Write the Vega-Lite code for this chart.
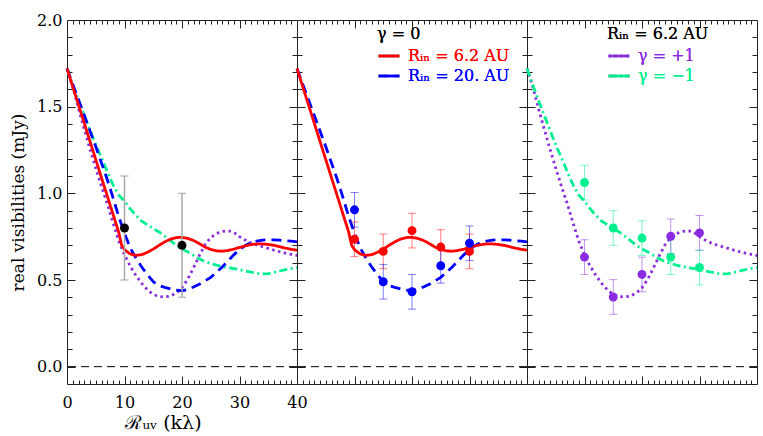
{
"$schema": "https://vega.github.io/schema/vega-lite/v6.json",
"padding": {"left": 9, "top": 11, "right": 5, "bottom": 2},
"background": "white",
"spacing": 0,
"bounds": "flush",
"resolve": {"scale": {"color": "independent", "strokeDash": "independent"}, "legend": {"color": "independent", "strokeDash": "independent"}},
"datasets": {
"curves": [
{"s":"γ = +1","x":0,"v":1.72},{"s":"γ = +1","x":1,"v":1.615},{"s":"γ = +1","x":2,"v":1.49},{"s":"γ = +1","x":3,"v":1.37},{"s":"γ = +1","x":4,"v":1.255},{"s":"γ = +1","x":5,"v":1.145},{"s":"γ = +1","x":6,"v":1.04},{"s":"γ = +1","x":7,"v":0.94},{"s":"γ = +1","x":8,"v":0.83},{"s":"γ = +1","x":9,"v":0.725},{"s":"γ = +1","x":10,"v":0.645},{"s":"γ = +1","x":11,"v":0.58},{"s":"γ = +1","x":12,"v":0.525},{"s":"γ = +1","x":13,"v":0.48},{"s":"γ = +1","x":14,"v":0.443},{"s":"γ = +1","x":15,"v":0.416},{"s":"γ = +1","x":16,"v":0.405},{"s":"γ = +1","x":17,"v":0.402},{"s":"γ = +1","x":18,"v":0.408},{"s":"γ = +1","x":19,"v":0.425},{"s":"γ = +1","x":20,"v":0.455},{"s":"γ = +1","x":21,"v":0.505},{"s":"γ = +1","x":22,"v":0.57},{"s":"γ = +1","x":23,"v":0.64},{"s":"γ = +1","x":24,"v":0.703},{"s":"γ = +1","x":25,"v":0.745},{"s":"γ = +1","x":26,"v":0.768},{"s":"γ = +1","x":27,"v":0.78},{"s":"γ = +1","x":28,"v":0.784},{"s":"γ = +1","x":29,"v":0.776},{"s":"γ = +1","x":30,"v":0.75},{"s":"γ = +1","x":31,"v":0.73},{"s":"γ = +1","x":32,"v":0.714},{"s":"γ = +1","x":33,"v":0.702},{"s":"γ = +1","x":34,"v":0.692},{"s":"γ = +1","x":35,"v":0.682},{"s":"γ = +1","x":36,"v":0.672},{"s":"γ = +1","x":37,"v":0.663},{"s":"γ = +1","x":38,"v":0.655},{"s":"γ = +1","x":39,"v":0.648},{"s":"γ = +1","x":40,"v":0.641},
{"s":"γ = −1","x":0,"v":1.72},{"s":"γ = −1","x":1,"v":1.625},{"s":"γ = −1","x":2,"v":1.535},{"s":"γ = −1","x":3,"v":1.45},{"s":"γ = −1","x":4,"v":1.365},{"s":"γ = −1","x":5,"v":1.28},{"s":"γ = −1","x":6,"v":1.205},{"s":"γ = −1","x":7,"v":1.125},{"s":"γ = −1","x":8,"v":1.05},{"s":"γ = −1","x":9,"v":0.99},{"s":"γ = −1","x":10,"v":0.955},{"s":"γ = −1","x":11,"v":0.91},{"s":"γ = −1","x":12,"v":0.872},{"s":"γ = −1","x":13,"v":0.84},{"s":"γ = −1","x":14,"v":0.818},{"s":"γ = −1","x":15,"v":0.797},{"s":"γ = −1","x":16,"v":0.777},{"s":"γ = −1","x":17,"v":0.753},{"s":"γ = −1","x":18,"v":0.727},{"s":"γ = −1","x":19,"v":0.70},{"s":"γ = −1","x":20,"v":0.68},{"s":"γ = −1","x":21,"v":0.662},{"s":"γ = −1","x":22,"v":0.642},{"s":"γ = −1","x":23,"v":0.622},{"s":"γ = −1","x":24,"v":0.606},{"s":"γ = −1","x":25,"v":0.595},{"s":"γ = −1","x":26,"v":0.586},{"s":"γ = −1","x":27,"v":0.578},{"s":"γ = −1","x":28,"v":0.572},{"s":"γ = −1","x":29,"v":0.566},{"s":"γ = −1","x":30,"v":0.56},{"s":"γ = −1","x":31,"v":0.552},{"s":"γ = −1","x":32,"v":0.545},{"s":"γ = −1","x":33,"v":0.539},{"s":"γ = −1","x":34,"v":0.535},{"s":"γ = −1","x":35,"v":0.537},{"s":"γ = −1","x":36,"v":0.544},{"s":"γ = −1","x":37,"v":0.552},{"s":"γ = −1","x":38,"v":0.56},{"s":"γ = −1","x":39,"v":0.566},{"s":"γ = −1","x":40,"v":0.572},
{"s":"Rᵢₙ = 20. AU","x":0,"v":1.72},{"s":"Rᵢₙ = 20. AU","x":1,"v":1.63},{"s":"Rᵢₙ = 20. AU","x":2,"v":1.54},{"s":"Rᵢₙ = 20. AU","x":3,"v":1.45},{"s":"Rᵢₙ = 20. AU","x":4,"v":1.36},{"s":"Rᵢₙ = 20. AU","x":5,"v":1.27},{"s":"Rᵢₙ = 20. AU","x":6,"v":1.175},{"s":"Rᵢₙ = 20. AU","x":7,"v":1.08},{"s":"Rᵢₙ = 20. AU","x":8,"v":0.975},{"s":"Rᵢₙ = 20. AU","x":9,"v":0.865},{"s":"Rᵢₙ = 20. AU","x":10,"v":0.77},{"s":"Rᵢₙ = 20. AU","x":11,"v":0.685},{"s":"Rᵢₙ = 20. AU","x":12,"v":0.625},{"s":"Rᵢₙ = 20. AU","x":13,"v":0.575},{"s":"Rᵢₙ = 20. AU","x":14,"v":0.53},{"s":"Rᵢₙ = 20. AU","x":15,"v":0.49},{"s":"Rᵢₙ = 20. AU","x":16,"v":0.468},{"s":"Rᵢₙ = 20. AU","x":17,"v":0.458},{"s":"Rᵢₙ = 20. AU","x":18,"v":0.449},{"s":"Rᵢₙ = 20. AU","x":19,"v":0.441},{"s":"Rᵢₙ = 20. AU","x":20,"v":0.438},{"s":"Rᵢₙ = 20. AU","x":21,"v":0.445},{"s":"Rᵢₙ = 20. AU","x":22,"v":0.46},{"s":"Rᵢₙ = 20. AU","x":23,"v":0.475},{"s":"Rᵢₙ = 20. AU","x":24,"v":0.495},{"s":"Rᵢₙ = 20. AU","x":25,"v":0.515},{"s":"Rᵢₙ = 20. AU","x":26,"v":0.545},{"s":"Rᵢₙ = 20. AU","x":27,"v":0.575},{"s":"Rᵢₙ = 20. AU","x":28,"v":0.61},{"s":"Rᵢₙ = 20. AU","x":29,"v":0.645},{"s":"Rᵢₙ = 20. AU","x":30,"v":0.675},{"s":"Rᵢₙ = 20. AU","x":31,"v":0.70},{"s":"Rᵢₙ = 20. AU","x":32,"v":0.716},{"s":"Rᵢₙ = 20. AU","x":33,"v":0.725},{"s":"Rᵢₙ = 20. AU","x":34,"v":0.73},{"s":"Rᵢₙ = 20. AU","x":35,"v":0.732},{"s":"Rᵢₙ = 20. AU","x":36,"v":0.732},{"s":"Rᵢₙ = 20. AU","x":37,"v":0.73},{"s":"Rᵢₙ = 20. AU","x":38,"v":0.727},{"s":"Rᵢₙ = 20. AU","x":39,"v":0.724},{"s":"Rᵢₙ = 20. AU","x":40,"v":0.72},
{"s":"Rᵢₙ = 6.2 AU","x":0,"v":1.72},{"s":"Rᵢₙ = 6.2 AU","x":1,"v":1.615},{"s":"Rᵢₙ = 6.2 AU","x":2,"v":1.51},{"s":"Rᵢₙ = 6.2 AU","x":3,"v":1.405},{"s":"Rᵢₙ = 6.2 AU","x":4,"v":1.30},{"s":"Rᵢₙ = 6.2 AU","x":5,"v":1.195},{"s":"Rᵢₙ = 6.2 AU","x":6,"v":1.09},{"s":"Rᵢₙ = 6.2 AU","x":7,"v":0.985},{"s":"Rᵢₙ = 6.2 AU","x":8,"v":0.88},{"s":"Rᵢₙ = 6.2 AU","x":9,"v":0.775},{"s":"Rᵢₙ = 6.2 AU","x":9.5,"v":0.70},{"s":"Rᵢₙ = 6.2 AU","x":10,"v":0.675},{"s":"Rᵢₙ = 6.2 AU","x":11,"v":0.65},{"s":"Rᵢₙ = 6.2 AU","x":12,"v":0.642},{"s":"Rᵢₙ = 6.2 AU","x":13,"v":0.646},{"s":"Rᵢₙ = 6.2 AU","x":14,"v":0.66},{"s":"Rᵢₙ = 6.2 AU","x":15,"v":0.678},{"s":"Rᵢₙ = 6.2 AU","x":16,"v":0.70},{"s":"Rᵢₙ = 6.2 AU","x":17,"v":0.72},{"s":"Rᵢₙ = 6.2 AU","x":18,"v":0.736},{"s":"Rᵢₙ = 6.2 AU","x":19,"v":0.745},{"s":"Rᵢₙ = 6.2 AU","x":20,"v":0.746},{"s":"Rᵢₙ = 6.2 AU","x":21,"v":0.74},{"s":"Rᵢₙ = 6.2 AU","x":22,"v":0.728},{"s":"Rᵢₙ = 6.2 AU","x":23,"v":0.71},{"s":"Rᵢₙ = 6.2 AU","x":24,"v":0.69},{"s":"Rᵢₙ = 6.2 AU","x":25,"v":0.676},{"s":"Rᵢₙ = 6.2 AU","x":26,"v":0.668},{"s":"Rᵢₙ = 6.2 AU","x":27,"v":0.666},{"s":"Rᵢₙ = 6.2 AU","x":28,"v":0.67},{"s":"Rᵢₙ = 6.2 AU","x":29,"v":0.678},{"s":"Rᵢₙ = 6.2 AU","x":30,"v":0.688},{"s":"Rᵢₙ = 6.2 AU","x":31,"v":0.697},{"s":"Rᵢₙ = 6.2 AU","x":32,"v":0.704},{"s":"Rᵢₙ = 6.2 AU","x":33,"v":0.708},{"s":"Rᵢₙ = 6.2 AU","x":34,"v":0.708},{"s":"Rᵢₙ = 6.2 AU","x":35,"v":0.705},{"s":"Rᵢₙ = 6.2 AU","x":36,"v":0.70},{"s":"Rᵢₙ = 6.2 AU","x":37,"v":0.692},{"s":"Rᵢₙ = 6.2 AU","x":38,"v":0.684},{"s":"Rᵢₙ = 6.2 AU","x":39,"v":0.677},{"s":"Rᵢₙ = 6.2 AU","x":40,"v":0.672}
],
"obs": [
{"p":1,"s":"obs","x":10,"v":0.80,"lo":0.50,"hi":1.10},
{"p":1,"s":"obs","x":20,"v":0.70,"lo":0.40,"hi":1.00},
{"p":2,"s":"Rᵢₙ = 6.2 AU","x":10,"v":0.735,"lo":0.635,"hi":0.835},
{"p":2,"s":"Rᵢₙ = 6.2 AU","x":15,"v":0.665,"lo":0.565,"hi":0.765},
{"p":2,"s":"Rᵢₙ = 6.2 AU","x":20,"v":0.785,"lo":0.685,"hi":0.885},
{"p":2,"s":"Rᵢₙ = 6.2 AU","x":25,"v":0.69,"lo":0.59,"hi":0.79},
{"p":2,"s":"Rᵢₙ = 6.2 AU","x":30,"v":0.665,"lo":0.565,"hi":0.765},
{"p":2,"s":"Rᵢₙ = 20. AU","x":10,"v":0.905,"lo":0.805,"hi":1.005},
{"p":2,"s":"Rᵢₙ = 20. AU","x":15,"v":0.49,"lo":0.39,"hi":0.59},
{"p":2,"s":"Rᵢₙ = 20. AU","x":20,"v":0.432,"lo":0.332,"hi":0.532},
{"p":2,"s":"Rᵢₙ = 20. AU","x":25,"v":0.582,"lo":0.482,"hi":0.682},
{"p":2,"s":"Rᵢₙ = 20. AU","x":30,"v":0.712,"lo":0.612,"hi":0.812},
{"p":3,"s":"γ = −1","x":10,"v":1.062,"lo":0.962,"hi":1.162},
{"p":3,"s":"γ = −1","x":15,"v":0.80,"lo":0.70,"hi":0.90},
{"p":3,"s":"γ = −1","x":20,"v":0.742,"lo":0.642,"hi":0.842},
{"p":3,"s":"γ = −1","x":25,"v":0.632,"lo":0.532,"hi":0.732},
{"p":3,"s":"γ = −1","x":30,"v":0.572,"lo":0.472,"hi":0.672},
{"p":3,"s":"γ = +1","x":10,"v":0.632,"lo":0.532,"hi":0.732},
{"p":3,"s":"γ = +1","x":15,"v":0.402,"lo":0.302,"hi":0.502},
{"p":3,"s":"γ = +1","x":20,"v":0.532,"lo":0.432,"hi":0.632},
{"p":3,"s":"γ = +1","x":25,"v":0.752,"lo":0.652,"hi":0.852},
{"p":3,"s":"γ = +1","x":30,"v":0.772,"lo":0.672,"hi":0.872}
]
},
"hconcat": [
{
"width": 230, "height": 364,
"resolve": {"axis": {"x": "independent", "y": "independent"}, "scale": {"color": "independent"}},
"layer": [
{"data": {"values": [{"level": 0}]},
 "mark": {"type": "rule", "color": "#000", "strokeWidth": 1, "strokeDash": [8, 5]},
 "encoding": {"y": {"field": "level", "type": "quantitative", "scale": {"domain": [-0.1, 2], "nice": false, "zero": false},
   "axis": {"orient": "left", "values": [0, 0.5, 1, 1.5, 2], "format": ".1f", "ticks": false, "labelPadding": 5, "labelFlush": false, "labelOverlap": false, "title": "real visibilities (mJy)", "titlePadding": 9, "titleFontSize": 17}}}},
{"data": {"name": "curves"},
 "mark": {"type": "line", "strokeWidth": 2.8, "strokeCap": "butt"},
 "encoding": {
   "x": {"field": "x", "type": "quantitative", "scale": {"domain": [0, 40], "nice": false, "zero": false},
     "axis": {"orient": "bottom", "values": [0, 10, 20, 30, 40], "ticks": false, "labelPadding": 10, "labelFlush": false, "labelOverlap": false, "title": "ℛᵤᵥ (kλ)", "titlePadding": 3, "titleX": 96, "titleFontSize": 19}},
   "y": {"field": "v", "type": "quantitative", "scale": {"domain": [-0.1, 2], "nice": false, "zero": false},
     "axis": {"orient": "left", "values": [0, 0.5, 1, 1.5], "labels": false, "tickSize": -8, "title": null}},
   "color": {"field": "s", "type": "nominal", "scale": {"domain": ["γ = +1", "γ = −1", "Rᵢₙ = 20. AU", "Rᵢₙ = 6.2 AU"], "range": ["#8a2be2", "#00f090", "#0000ff", "#ff0000"]}, "legend": null},
   "strokeDash": {"field": "s", "type": "nominal", "scale": {"domain": ["γ = +1", "γ = −1", "Rᵢₙ = 20. AU", "Rᵢₙ = 6.2 AU"], "range": [[2.5, 3.5], [8, 3.5, 2, 3.5], [10, 6], [1, 0]]}, "legend": null}
 }},
{"data": {"name": "obs"}, "transform": [{"filter": "datum.p == 1"}],
 "mark": {"type": "rule", "color": "#a8a8a8", "strokeWidth": 1.5},
 "encoding": {
   "x": {"field": "x", "type": "quantitative", "scale": {"domain": [0, 40], "nice": false, "zero": false},
     "axis": {"orient": "bottom", "values": [10, 20, 30], "labels": false, "tickSize": -8, "title": null}},
   "y": {"field": "lo", "type": "quantitative", "scale": {"domain": [-0.1, 2], "nice": false, "zero": false},
     "axis": {"orient": "left", "values": [0.1,0.2,0.3,0.4,0.6,0.7,0.8,0.9,1.1,1.2,1.3,1.4,1.6,1.7,1.8,1.9], "labels": false, "tickSize": -5, "title": null}},
   "y2": {"field": "hi"}
 }},
{"data": {"name": "obs"}, "transform": [{"filter": "datum.p == 1"}],
 "mark": {"type": "tick", "orient": "horizontal", "size": 8, "thickness": 1.5, "color": "#a8a8a8"},
 "encoding": {
   "x": {"field": "x", "type": "quantitative", "scale": {"domain": [0, 40], "nice": false, "zero": false},
     "axis": {"orient": "bottom", "values": [1,2,3,4,5,6,7,8,9,11,12,13,14,15,16,17,18,19,21,22,23,24,25,26,27,28,29,31,32,33,34,35,36,37,38,39], "labels": false, "tickSize": -4, "title": null}},
   "y": {"field": "lo", "type": "quantitative", "scale": {"domain": [-0.1, 2], "nice": false, "zero": false},
     "axis": {"orient": "right", "values": [0, 0.5, 1, 1.5], "labels": false, "tickSize": -8, "title": null}}
 }},
{"data": {"name": "obs"}, "transform": [{"filter": "datum.p == 1"}],
 "mark": {"type": "tick", "orient": "horizontal", "size": 8, "thickness": 1.5, "color": "#a8a8a8"},
 "encoding": {
   "x": {"field": "x", "type": "quantitative", "scale": {"domain": [0, 40], "nice": false, "zero": false},
     "axis": {"orient": "top", "values": [10, 20, 30], "labels": false, "tickSize": -8, "title": null}},
   "y": {"field": "hi", "type": "quantitative", "scale": {"domain": [-0.1, 2], "nice": false, "zero": false},
     "axis": {"orient": "right", "values": [0.1,0.2,0.3,0.4,0.6,0.7,0.8,0.9,1.1,1.2,1.3,1.4,1.6,1.7,1.8,1.9], "labels": false, "tickSize": -5, "title": null}}
 }},
{"data": {"name": "obs"}, "transform": [{"filter": "datum.p == 1"}],
 "mark": {"type": "circle", "size": 80, "opacity": 1, "color": "#000"},
 "encoding": {
   "x": {"field": "x", "type": "quantitative", "scale": {"domain": [0, 40], "nice": false, "zero": false},
     "axis": {"orient": "top", "values": [1,2,3,4,5,6,7,8,9,11,12,13,14,15,16,17,18,19,21,22,23,24,25,26,27,28,29,31,32,33,34,35,36,37,38,39], "labels": false, "tickSize": -4, "title": null}},
   "y": {"field": "v", "type": "quantitative", "scale": {"domain": [-0.1, 2], "nice": false, "zero": false}, "axis": null}
 }}
]
},
{
"width": 230, "height": 364,
"resolve": {"axis": {"x": "independent", "y": "independent"}, "scale": {"color": "independent"}},
"layer": [
{"data": {"values": [{"level": 0}]},
 "mark": {"type": "rule", "color": "#000", "strokeWidth": 1, "strokeDash": [8, 5]},
 "encoding": {"y": {"field": "level", "type": "quantitative", "scale": {"domain": [-0.1, 2], "nice": false, "zero": false},
   "axis": {"orient": "left", "values": [0, 0.5, 1, 1.5], "labels": false, "tickSize": -8, "title": null}}}},
{"data": {"name": "curves"}, "transform": [{"filter": "indexof(datum.s, 'AU') >= 0"}],
 "mark": {"type": "line", "strokeWidth": 2.8, "strokeCap": "butt"},
 "encoding": {
   "x": {"field": "x", "type": "quantitative", "scale": {"domain": [0, 40], "nice": false, "zero": false},
     "axis": {"orient": "bottom", "values": [10, 20, 30], "labels": false, "tickSize": -8, "title": null}},
   "y": {"field": "v", "type": "quantitative", "scale": {"domain": [-0.1, 2], "nice": false, "zero": false},
     "axis": {"orient": "left", "values": [0.1,0.2,0.3,0.4,0.6,0.7,0.8,0.9,1.1,1.2,1.3,1.4,1.6,1.7,1.8,1.9], "labels": false, "tickSize": -5, "title": null}},
   "color": {"field": "s", "type": "nominal", "scale": {"domain": ["Rᵢₙ = 6.2 AU", "Rᵢₙ = 20. AU"], "range": ["#ff0000", "#0000ff"]},
     "legend": {"orient": "none", "legendX": 80, "legendY": 6, "title": "γ = 0", "titleFontWeight": 400, "titleFont": "DejaVu Serif", "titleFontSize": 16, "symbolType": "stroke", "symbolSize": 441, "symbolStrokeWidth": 2.8, "rowPadding": -7, "titlePadding": 2, "labelOffset": 7, "padding": 0,
       "encode": {"title": {"update": {"fontWeight": {"value": 400}}}, "labels": {"update": {"fill": {"signal": "indexof(datum.value, '6.2') >= 0 ? '#ff0000' : '#0000ff'"}}}}}},
   "strokeDash": {"field": "s", "type": "nominal", "scale": {"domain": ["Rᵢₙ = 6.2 AU", "Rᵢₙ = 20. AU"], "range": [[1, 0], [10, 6]]},
     "legend": {"orient": "none", "legendX": 80, "legendY": 6, "title": "γ = 0", "titleFontWeight": 400, "titleFont": "DejaVu Serif", "titleFontSize": 16, "symbolType": "stroke", "symbolSize": 441, "symbolStrokeWidth": 2.8, "rowPadding": -7, "titlePadding": 2, "labelOffset": 7, "padding": 0,
       "encode": {"title": {"update": {"fontWeight": {"value": 400}}}, "labels": {"update": {"fill": {"signal": "indexof(datum.value, '6.2') >= 0 ? '#ff0000' : '#0000ff'"}}}}}}
 }},
{"data": {"name": "obs"}, "transform": [{"filter": "datum.p == 2"}],
 "mark": {"type": "rule", "strokeWidth": 1, "opacity": 0.5},
 "encoding": {
   "x": {"field": "x", "type": "quantitative", "scale": {"domain": [0, 40], "nice": false, "zero": false},
     "axis": {"orient": "bottom", "values": [1,2,3,4,5,6,7,8,9,11,12,13,14,15,16,17,18,19,21,22,23,24,25,26,27,28,29,31,32,33,34,35,36,37,38,39], "labels": false, "tickSize": -4, "title": null}},
   "y": {"field": "lo", "type": "quantitative", "scale": {"domain": [-0.1, 2], "nice": false, "zero": false},
     "axis": {"orient": "right", "values": [0, 0.5, 1, 1.5], "labels": false, "tickSize": -8, "title": null}},
   "y2": {"field": "hi"},
   "color": {"field": "s", "type": "nominal", "scale": {"domain": ["Rᵢₙ = 6.2 AU", "Rᵢₙ = 20. AU"], "range": ["#ff0000", "#0000ff"]}, "legend": null}
 }},
{"data": {"name": "obs"}, "transform": [{"filter": "datum.p == 2"}],
 "mark": {"type": "tick", "orient": "horizontal", "size": 8, "thickness": 1, "opacity": 0.5},
 "encoding": {
   "x": {"field": "x", "type": "quantitative", "scale": {"domain": [0, 40], "nice": false, "zero": false},
     "axis": {"orient": "top", "values": [10, 20, 30], "labels": false, "tickSize": -8, "title": null}},
   "y": {"field": "lo", "type": "quantitative", "scale": {"domain": [-0.1, 2], "nice": false, "zero": false},
     "axis": {"orient": "right", "values": [0.1,0.2,0.3,0.4,0.6,0.7,0.8,0.9,1.1,1.2,1.3,1.4,1.6,1.7,1.8,1.9], "labels": false, "tickSize": -5, "title": null}},
   "color": {"field": "s", "type": "nominal", "scale": {"domain": ["Rᵢₙ = 6.2 AU", "Rᵢₙ = 20. AU"], "range": ["#ff0000", "#0000ff"]}, "legend": null}
 }},
{"data": {"name": "obs"}, "transform": [{"filter": "datum.p == 2"}],
 "mark": {"type": "tick", "orient": "horizontal", "size": 8, "thickness": 1, "opacity": 0.5},
 "encoding": {
   "x": {"field": "x", "type": "quantitative", "scale": {"domain": [0, 40], "nice": false, "zero": false},
     "axis": {"orient": "top", "values": [1,2,3,4,5,6,7,8,9,11,12,13,14,15,16,17,18,19,21,22,23,24,25,26,27,28,29,31,32,33,34,35,36,37,38,39], "labels": false, "tickSize": -4, "title": null}},
   "y": {"field": "hi", "type": "quantitative", "scale": {"domain": [-0.1, 2], "nice": false, "zero": false}, "axis": null},
   "color": {"field": "s", "type": "nominal", "scale": {"domain": ["Rᵢₙ = 6.2 AU", "Rᵢₙ = 20. AU"], "range": ["#ff0000", "#0000ff"]}, "legend": null}
 }},
{"data": {"name": "obs"}, "transform": [{"filter": "datum.p == 2"}],
 "mark": {"type": "circle", "size": 80, "opacity": 1},
 "encoding": {
   "x": {"field": "x", "type": "quantitative", "scale": {"domain": [0, 40], "nice": false, "zero": false}, "axis": null},
   "y": {"field": "v", "type": "quantitative", "scale": {"domain": [-0.1, 2], "nice": false, "zero": false}, "axis": null},
   "color": {"field": "s", "type": "nominal", "scale": {"domain": ["Rᵢₙ = 6.2 AU", "Rᵢₙ = 20. AU"], "range": ["#ff0000", "#0000ff"]}, "legend": null}
 }}
]
},
{
"width": 230, "height": 364,
"resolve": {"axis": {"x": "independent", "y": "independent"}, "scale": {"color": "independent"}},
"layer": [
{"data": {"values": [{"level": 0}]},
 "mark": {"type": "rule", "color": "#000", "strokeWidth": 1, "strokeDash": [8, 5]},
 "encoding": {"y": {"field": "level", "type": "quantitative", "scale": {"domain": [-0.1, 2], "nice": false, "zero": false},
   "axis": {"orient": "left", "values": [0, 0.5, 1, 1.5], "labels": false, "tickSize": -8, "title": null}}}},
{"data": {"name": "curves"}, "transform": [{"filter": "indexof(datum.s, 'γ') >= 0"}],
 "mark": {"type": "line", "strokeWidth": 2.8, "strokeCap": "butt"},
 "encoding": {
   "x": {"field": "x", "type": "quantitative", "scale": {"domain": [0, 40], "nice": false, "zero": false},
     "axis": {"orient": "bottom", "values": [10, 20, 30], "labels": false, "tickSize": -8, "title": null}},
   "y": {"field": "v", "type": "quantitative", "scale": {"domain": [-0.1, 2], "nice": false, "zero": false},
     "axis": {"orient": "left", "values": [0.1,0.2,0.3,0.4,0.6,0.7,0.8,0.9,1.1,1.2,1.3,1.4,1.6,1.7,1.8,1.9], "labels": false, "tickSize": -5, "title": null}},
   "color": {"field": "s", "type": "nominal", "scale": {"domain": ["γ = +1", "γ = −1"], "range": ["#8a2be2", "#00f090"]},
     "legend": {"orient": "none", "legendX": 80, "legendY": 6, "title": "Rᵢₙ = 6.2 AU", "titleFontWeight": 400, "titleFont": "DejaVu Serif", "titleFontSize": 16, "symbolType": "stroke", "symbolSize": 441, "symbolStrokeWidth": 2.8, "rowPadding": -7, "titlePadding": 2, "labelOffset": 7, "padding": 0,
       "encode": {"title": {"update": {"fontWeight": {"value": 400}}}, "labels": {"update": {"fill": {"signal": "indexof(datum.value, '+') >= 0 ? '#8a2be2' : '#00f090'"}}}}}},
   "strokeDash": {"field": "s", "type": "nominal", "scale": {"domain": ["γ = +1", "γ = −1"], "range": [[2.5, 3.5], [8, 3.5, 2, 3.5]]},
     "legend": {"orient": "none", "legendX": 80, "legendY": 6, "title": "Rᵢₙ = 6.2 AU", "titleFontWeight": 400, "titleFont": "DejaVu Serif", "titleFontSize": 16, "symbolType": "stroke", "symbolSize": 441, "symbolStrokeWidth": 2.8, "rowPadding": -7, "titlePadding": 2, "labelOffset": 7, "padding": 0,
       "encode": {"title": {"update": {"fontWeight": {"value": 400}}}, "labels": {"update": {"fill": {"signal": "indexof(datum.value, '+') >= 0 ? '#8a2be2' : '#00f090'"}}}}}}
 }},
{"data": {"name": "obs"}, "transform": [{"filter": "datum.p == 3"}],
 "mark": {"type": "rule", "strokeWidth": 1, "opacity": 0.5},
 "encoding": {
   "x": {"field": "x", "type": "quantitative", "scale": {"domain": [0, 40], "nice": false, "zero": false},
     "axis": {"orient": "bottom", "values": [1,2,3,4,5,6,7,8,9,11,12,13,14,15,16,17,18,19,21,22,23,24,25,26,27,28,29,31,32,33,34,35,36,37,38,39], "labels": false, "tickSize": -4, "title": null}},
   "y": {"field": "lo", "type": "quantitative", "scale": {"domain": [-0.1, 2], "nice": false, "zero": false},
     "axis": {"orient": "right", "values": [0, 0.5, 1, 1.5], "labels": false, "tickSize": -8, "title": null}},
   "y2": {"field": "hi"},
   "color": {"field": "s", "type": "nominal", "scale": {"domain": ["γ = +1", "γ = −1"], "range": ["#8a2be2", "#00f090"]}, "legend": null}
 }},
{"data": {"name": "obs"}, "transform": [{"filter": "datum.p == 3"}],
 "mark": {"type": "tick", "orient": "horizontal", "size": 8, "thickness": 1, "opacity": 0.5},
 "encoding": {
   "x": {"field": "x", "type": "quantitative", "scale": {"domain": [0, 40], "nice": false, "zero": false},
     "axis": {"orient": "top", "values": [10, 20, 30], "labels": false, "tickSize": -8, "title": null}},
   "y": {"field": "lo", "type": "quantitative", "scale": {"domain": [-0.1, 2], "nice": false, "zero": false},
     "axis": {"orient": "right", "values": [0.1,0.2,0.3,0.4,0.6,0.7,0.8,0.9,1.1,1.2,1.3,1.4,1.6,1.7,1.8,1.9], "labels": false, "tickSize": -5, "title": null}},
   "color": {"field": "s", "type": "nominal", "scale": {"domain": ["γ = +1", "γ = −1"], "range": ["#8a2be2", "#00f090"]}, "legend": null}
 }},
{"data": {"name": "obs"}, "transform": [{"filter": "datum.p == 3"}],
 "mark": {"type": "tick", "orient": "horizontal", "size": 8, "thickness": 1, "opacity": 0.5},
 "encoding": {
   "x": {"field": "x", "type": "quantitative", "scale": {"domain": [0, 40], "nice": false, "zero": false},
     "axis": {"orient": "top", "values": [1,2,3,4,5,6,7,8,9,11,12,13,14,15,16,17,18,19,21,22,23,24,25,26,27,28,29,31,32,33,34,35,36,37,38,39], "labels": false, "tickSize": -4, "title": null}},
   "y": {"field": "hi", "type": "quantitative", "scale": {"domain": [-0.1, 2], "nice": false, "zero": false}, "axis": null},
   "color": {"field": "s", "type": "nominal", "scale": {"domain": ["γ = +1", "γ = −1"], "range": ["#8a2be2", "#00f090"]}, "legend": null}
 }},
{"data": {"name": "obs"}, "transform": [{"filter": "datum.p == 3"}],
 "mark": {"type": "circle", "size": 80, "opacity": 1},
 "encoding": {
   "x": {"field": "x", "type": "quantitative", "scale": {"domain": [0, 40], "nice": false, "zero": false}, "axis": null},
   "y": {"field": "v", "type": "quantitative", "scale": {"domain": [-0.1, 2], "nice": false, "zero": false}, "axis": null},
   "color": {"field": "s", "type": "nominal", "scale": {"domain": ["γ = +1", "γ = −1"], "range": ["#8a2be2", "#00f090"]}, "legend": null}
 }}
]
}
],
"config": {
  "view": {"stroke": "#222", "strokeWidth": 1},
  "style": {"guide-title": {"fontWeight": 400}},
  "axis": {"domain": false, "grid": false, "tickColor": "#222", "tickWidth": 1, "labelFont": "DejaVu Serif", "labelFontSize": 16, "labelColor": "#000", "titleFont": "DejaVu Serif", "titleFontSize": 16, "titleFontWeight": "normal", "titleColor": "#000"},
  "legend": {"titleFont": "DejaVu Serif", "titleFontSize": 16, "titleFontWeight": 400, "titleColor": "#000", "labelFont": "DejaVu Serif", "labelFontSize": 16}
}
}
